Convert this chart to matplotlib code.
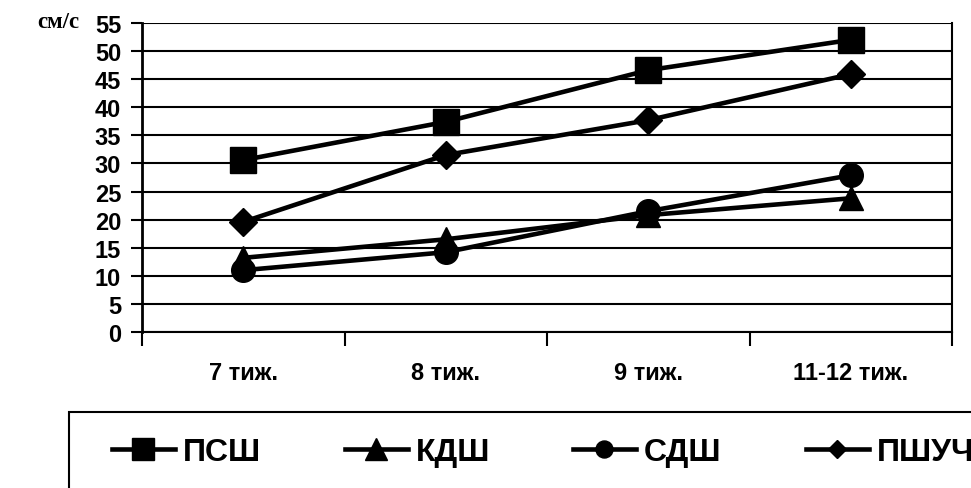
import matplotlib
matplotlib.use("Agg")
import matplotlib.pyplot as plt
from matplotlib.patches import Rectangle

weeks = ["7 тиж.", "8 тиж.", "9 тиж.", "11-12 тиж."]
psh = [30.6, 37.4, 46.6, 52.0]
kdsh = [13.2, 16.5, 20.8, 23.8]
sdsh = [11.0, 14.2, 21.5, 27.9]
pshuch = [19.6, 31.5, 37.7, 45.9]
series_names = ["ПСШ", "КДШ", "СДШ", "ПШУЧ"]

plt.rcParams["font.family"] = ["Liberation Sans", "DejaVu Sans"]
plt.rcParams["font.weight"] = "bold"

fig = plt.figure(figsize=(9.71, 4.89), dpi=100)
W, H = 971, 489
ax = fig.add_axes([142 / W, 1 - 333 / H, (952 - 142) / W, (333 - 24) / H])

x = [i + 0.5 for i in range(len(weeks))]
# marker, plot size, legend scale
styles = [("s", 18.5, 0.88), ("^", 17.5, 0.9), ("o", 17, 0.72), ("D", 14.5, 0.65)]
lines = []
for values, name, (mk, ms, _) in zip([psh, kdsh, sdsh, pshuch], series_names, styles):
    ln, = ax.plot(x, values, color="black", lw=3.3, marker=mk, markersize=ms,
                  markerfacecolor="black", markeredgecolor="black", label=name,
                  clip_on=False, zorder=3)
    lines.append(ln)

ax.set_xlim(0, 4)
ax.set_ylim(0, 55)
ax.set_yticks(range(0, 56, 5))
ax.yaxis.grid(True, color="black", lw=1.5)
ax.set_axisbelow(True)
ax.set_xticks(range(0, 5))
ax.set_xticklabels([])
ax.set_xticks(x, minor=True)
ax.set_xticklabels(weeks, minor=True, fontsize=17, fontweight="bold")
ax.tick_params(axis="x", which="minor", length=0, pad=21)
ax.tick_params(axis="x", which="major", length=10, width=1.5, direction="out")
ax.tick_params(axis="y", length=8, width=1.5, direction="out", labelsize=17, pad=7)
for lab in ax.get_yticklabels():
    lab.set_fontweight("bold")

ax.spines["top"].set_visible(False)
ax.spines["right"].set_linewidth(1.5)
ax.spines["left"].set_linewidth(2)
ax.spines["bottom"].set_linewidth(1.5)

fig.text(37 / W, 1 - 22 / H, "см/с", fontsize=16.5, fontweight="bold",
         family=["Liberation Serif", "DejaVu Serif"], ha="left", va="center")

# legend frame running off the right and bottom edges
fig.patches.append(Rectangle((69 / W, -0.1), 1.0, (H - 413) / H + 0.1,
                             transform=fig.transFigure, fill=False, ec="black", lw=1.5))
legend_x = [112, 345, 573, 806]
for ln, lx, (_, _, scale) in zip(lines, legend_x, styles):
    leg = fig.legend([ln], [ln.get_label()], frameon=False, loc="center left",
                     bbox_to_anchor=(lx / W, 1 - 453 / H), borderpad=0, borderaxespad=0,
                     handlelength=1.97, handletextpad=0.25, markerscale=scale,
                     prop={"size": 23, "weight": "bold"})

fig.savefig("out.png", dpi=100)
